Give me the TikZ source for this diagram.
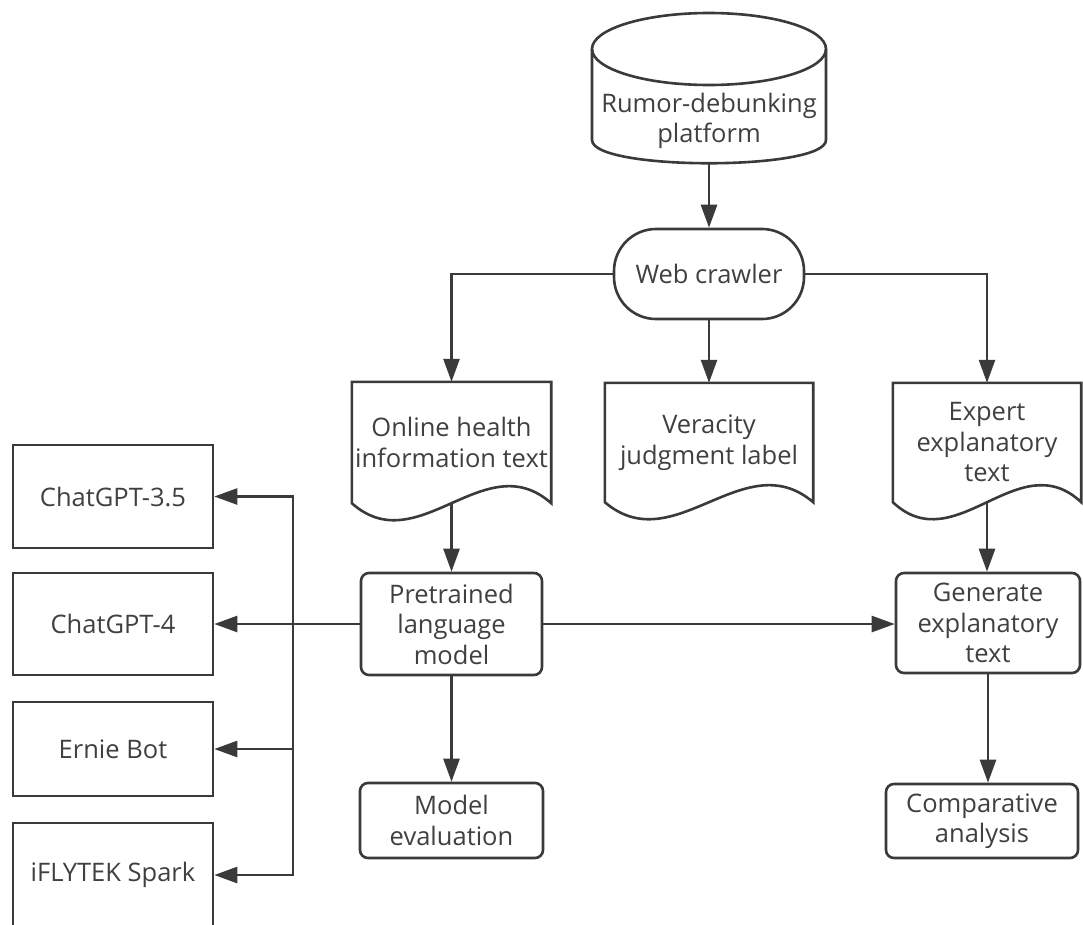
\documentclass[tikz,border=0pt]{standalone}
\usepackage{fontspec}
\setmainfont{Open Sans}
\usetikzlibrary{arrows.meta,calc}
\definecolor{lc}{HTML}{3A3A3A}
\definecolor{tc}{HTML}{404040}
\begin{document}
\begin{tikzpicture}[x=1pt,y=-1pt,
  every node/.style={font=\fontsize{25.5}{30.5}\selectfont, text=tc, align=center, inner sep=0pt},
  wire/.style={draw=lc, line width=2.6pt},
  box/.style={wire, fill=white},
  rbox/.style={box, rounded corners=8pt},
  arr/.style={wire, -{Triangle[length=23pt,width=16pt]}}]
\fill[white] (0,0) rectangle (1083,924);
\useasboundingbox (0,0) rectangle (1083,924);

% cylinder
\node (plat) at (709,121) {Rumor-debunking\\platform};
\coordinate (platb) at (709,163);
\draw[wire] (709,49) ellipse [x radius=117, y radius=36];
\draw[wire] (592,49) -- (592,140) .. controls (592,171) and (826,171) .. (826,140) -- (826,49);

% web crawler
\node[rbox, rounded corners=42pt, minimum width=190pt, minimum height=90pt] (crawl) at (709,274) {Web crawler};

% documents
\node[minimum width=199pt, minimum height=121pt] (doc1) at (451.5,442.5) {Online health\\information text};
\node[minimum width=208pt, minimum height=119pt] (doc2) at (709,442.5) {Veracity\\judgment label};
\node[minimum width=188pt, minimum height=119pt] (doc3) at (987,442.5) {Expert\\explanatory\\text};
\foreach \d/\w in {doc1/66.3, doc2/69.3, doc3/62.7}{
  \draw[wire] (\d.north west) -- (\d.south west) .. controls +(\w,59) and +(-\w,-59) .. (\d.south east) -- (\d.north east) -- cycle;
}

% boxes
\node[rbox, minimum width=181pt, minimum height=102pt] (pre) at (451.5,624) {Pretrained\\language\\model};
\node[rbox, minimum width=184pt, minimum height=100pt] (gen) at (988,623) {Generate\\explanatory\\text};
\node[rbox, minimum width=183pt, minimum height=75pt] (eval) at (451.5,820.5) {Model\\evaluation};
\node[rbox, minimum width=192pt, minimum height=74pt] (comp) at (982,821) {Comparative\\analysis};

% left models
\node[box, minimum width=200pt, minimum height=103pt] (g35) at (113,496.5) {ChatGPT-3.5};
\node[box, minimum width=200pt, minimum height=102pt] (g4) at (113,624) {ChatGPT-4};
\node[box, minimum width=200pt, minimum height=94pt] (ernie) at (113,749) {Ernie Bot};
\node[box, minimum width=200pt, minimum height=104pt] (spark) at (113,875) {iFLYTEK Spark};

% connectors
\draw[arr] (platb) -- (crawl.north);
\draw[arr] (crawl.west) -| (doc1.north);
\draw[arr] (crawl.south) -- (doc2.north);
\draw[arr] (crawl.east) -| (doc3.north);
\draw[arr] (doc1.south) -- (pre.north);
\draw[arr] (doc3.south) -- (doc3.south |- gen.north);
\draw[arr] (pre.east) -- (pre.east -| gen.west);
\draw[arr] (pre.south) -- (eval.north);
\draw[arr] (gen.south) -- (gen.south |- comp.north);
\draw[arr] (pre.west) -- (g4.east);
\coordinate (bus) at (293,624);
\draw[arr] (bus) |- (g35.east);
\draw[arr] (bus) |- (ernie.east);
\draw[arr] (bus) |- (spark.east);
\end{tikzpicture}
\end{document}
